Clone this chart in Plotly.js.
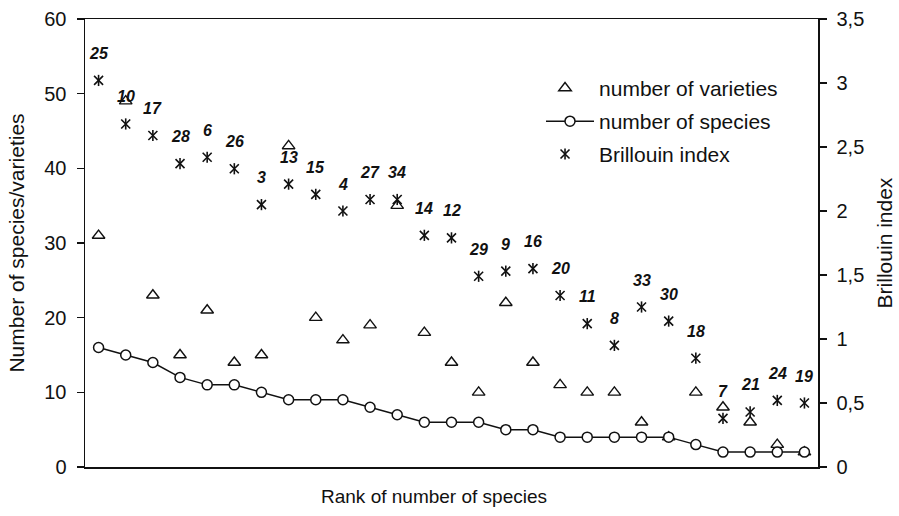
<!DOCTYPE html>
<html>
<head>
<meta charset="utf-8">
<script src="https://cdn.plot.ly/plotly-3.0.1.min.js"></script>
<style>
  html, body { margin: 0; padding: 0; background: #fff; }
  #chart { width: 899px; height: 516px; }
</style>
</head>
<body>
<div id="chart"></div>
<script>
// Rank of each site by number of species (1 = richest)
const ranks = [1,2,3,4,5,6,7,8,9,10,11,12,13,14,15,16,17,18,19,20,21,22,23,24,25,26,27];
// Site number printed above each Brillouin point
const siteIds = [25,10,17,28,6,26,3,13,15,4,27,34,14,12,29,9,16,20,11,8,33,30,18,7,21,24,19];
// Number of species per site
const species = [16,15,14,12,11,11,10,9,9,9,8,7,6,6,6,5,5,4,4,4,4,4,3,2,2,2,2];
// Number of varieties per site
const varieties = [31,49,23,15,21,14,15,43,20,17,19,35,18,14,10,22,14,11,10,10,6,4,10,8,6,3,2];
// Brillouin diversity index per site (right axis)
const brillouin = [3.02,2.68,2.59,2.37,2.42,2.33,2.05,2.21,2.13,2.00,2.09,2.09,1.81,1.79,1.49,1.53,1.55,1.34,1.12,0.95,1.25,1.14,0.85,0.38,0.43,0.52,0.50];

const FONT = '"Liberation Sans", Arial, Helvetica, sans-serif';
const INK = '#111';

const traces = [
  {
    x: ranks, y: varieties, name: 'number of varieties',
    type: 'scatter', mode: 'markers', legend: 'legend',
    marker: { symbol: 'triangle-up-open', size: 11, color: INK, line: { width: 1.4, color: INK } },
    hoverinfo: 'skip'
  },
  {
    x: ranks, y: species, name: 'number of species',
    type: 'scatter', mode: 'lines+markers', legend: 'legend2',
    line: { color: INK, width: 1.5 },
    marker: { symbol: 'circle', size: 10, color: '#fff', line: { width: 1.5, color: INK } },
    hoverinfo: 'skip'
  },
  {
    // diagonal strokes of the asterisk marker
    x: ranks, y: brillouin, name: 'Brillouin index', yaxis: 'y2',
    type: 'scatter', mode: 'markers', legend: 'legend3',
    marker: { symbol: 'x-thin-open', size: 9, color: INK, line: { width: 1.6, color: INK } },
    hoverinfo: 'skip'
  },
  {
    // vertical stroke of the asterisk marker
    x: ranks, y: brillouin, name: 'Brillouin index', yaxis: 'y2',
    type: 'scatter', mode: 'markers', legend: 'legend4',
    marker: { symbol: 'line-ns-open', size: 8, color: INK, line: { width: 1.6, color: INK } },
    hoverinfo: 'skip'
  }
];

// Site numbers above the Brillouin points
const annotations = ranks.map((r, i) => ({
  x: r, y: brillouin[i], xref: 'x', yref: 'y2',
  text: '<b><i>' + siteIds[i] + '</i></b>',
  showarrow: false, yshift: 27,
  font: { family: FONT, size: 16, color: INK }
}));

annotations.push({
  xref: 'paper', yref: 'paper', x: 0.476, y: -0.066,
  xanchor: 'center', yanchor: 'middle',
  text: 'Rank of number of species', showarrow: false,
  font: { family: FONT, size: 19, color: INK }
});

function legendAt(xp, yp, w, color) {
  return {
    x: xp, y: yp, xanchor: 'left', yanchor: 'top',
    bgcolor: 'rgba(0,0,0,0)', borderwidth: 0, itemwidth: w,
    font: { family: FONT, size: 21, color: color || INK }
  };
}

const layout = {
  width: 899, height: 516,
  margin: { l: 85, r: 81, t: 19, b: 49 },
  paper_bgcolor: '#fff', plot_bgcolor: '#fff',
  separators: ', ',
  font: { family: FONT, size: 20, color: INK },
  showlegend: true,
  legend: legendAt(0.6085, 0.891, 58),
  legend2: legendAt(0.6221, 0.817, 48),
  legend3: legendAt(0.6085, 0.7436, 58),
  // second half of the asterisk symbol; its label is left transparent
  legend4: legendAt(0.6085, 0.7436, 58, 'rgba(0,0,0,0)'),
  xaxis: {
    range: [0.5, 27.5], showticklabels: false, ticks: '',
    showgrid: false, zeroline: false,
    showline: true, mirror: true, linecolor: INK, linewidth: 1.5,
    automargin: false
  },
  yaxis: {
    range: [0, 60], dtick: 10, tick0: 0,
    ticks: 'outside', ticklen: 7, tickwidth: 1.2, tickcolor: INK,
    ticklabelstandoff: 6,
    showgrid: false, zeroline: false,
    showline: true, linecolor: INK, linewidth: 1.5,
    tickfont: { family: FONT, size: 20, color: INK },
    title: { text: 'Number of species/varieties', standoff: 14, font: { family: FONT, size: 21, color: INK } },
    automargin: false
  },
  yaxis2: {
    overlaying: 'y', side: 'right', anchor: 'x',
    range: [0, 3.5], dtick: 0.5, tick0: 0,
    ticks: 'outside', ticklen: 7, tickwidth: 1.2, tickcolor: INK,
    ticklabelstandoff: 6,
    showgrid: false, zeroline: false,
    showline: true, linecolor: INK, linewidth: 1.5,
    tickfont: { family: FONT, size: 20, color: INK },
    title: { text: 'Brillouin index', standoff: 14, font: { family: FONT, size: 21, color: INK } },
    automargin: false
  },
  // inner halves of the crossing tick marks
  yaxis3: {
    overlaying: 'y', side: 'left', anchor: 'x',
    range: [0, 60], dtick: 10, tick0: 0,
    ticks: 'inside', ticklen: 7, tickwidth: 1.2, tickcolor: INK,
    showticklabels: false, showgrid: false, zeroline: false, showline: false
  },
  yaxis4: {
    overlaying: 'y', side: 'right', anchor: 'x',
    range: [0, 3.5], dtick: 0.5, tick0: 0,
    ticks: 'inside', ticklen: 7, tickwidth: 1.2, tickcolor: INK,
    showticklabels: false, showgrid: false, zeroline: false, showline: false
  },
  annotations: annotations
};

Plotly.newPlot('chart', traces, layout, { staticPlot: true, displayModeBar: false });
</script>
</body>
</html>
